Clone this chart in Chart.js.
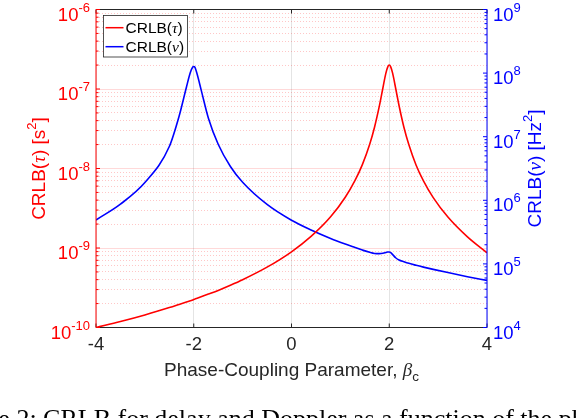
<!DOCTYPE html>
<html>
<head>
<meta charset="utf-8">
<script src="https://cdn.jsdelivr.net/npm/chart.js@4.4.0/dist/chart.umd.min.js"></script>
<style>
  html, body { margin: 0; padding: 0; background: #fff; overflow: hidden; }
  #wrap { position: relative; width: 576px; height: 418px; overflow: hidden; }
  #caption {
    position: absolute; left: -58px; top: 406px; white-space: nowrap;
    font-family: "Liberation Serif", "DejaVu Serif", serif; font-size: 26px; line-height: 1; color: #000;
  }
</style>
</head>
<body>
<div id="wrap">
  <canvas id="chart" width="576" height="418"></canvas>
  <div id="caption">Figure 2: CRLB for delay and Doppler as a function of the phase-coupling parameter</div>
</div>
<script>
// phase-coupling parameter samples (denser around the two peaks)
const betaValues = [-4, -3.5, -3, -2.5, -2.3, -2.15, -2.07, -2.02, -2, -1.98, -1.93, -1.85, -1.7, -1.5,
  -1.25, -1, -0.5, 0, 0.4, 0.8, 1.1, 1.3, 1.45, 1.6, 1.7, 1.8, 1.87, 1.93, 1.97, 2, 2.03, 2.07, 2.13,
  2.2, 2.3, 2.4, 2.55, 2.7, 2.9, 3.2, 3.6, 4];

// CRLB(tau) [s^2], left axis
const crlbTau = [1.0e-10, 1.19e-10, 1.44e-10, 1.78e-10, 1.95e-10, 2.09e-10, 2.17e-10, 2.22e-10, 2.25e-10,
  2.27e-10, 2.33e-10, 2.43e-10, 2.63e-10, 2.93e-10, 3.40e-10, 3.99e-10, 5.74e-10, 8.96e-10, 1.40e-9,
  2.47e-9, 4.35e-9, 7.09e-9, 1.12e-8, 2.02e-8, 3.33e-8, 6.21e-8, 1.03e-7, 1.57e-7, 1.90e-7, 2.0e-7,
  1.90e-7, 1.57e-7, 1.03e-7, 6.2e-8, 3.3e-8, 2.0e-8, 1.1e-8, 7.0e-9, 4.3e-9, 2.45e-9, 1.38e-9, 8.7e-10];

// CRLB(nu) [Hz^2], right axis
const crlbNu = [4.9e5, 8.7e5, 1.9e6, 7.0e6, 2.1e7, 6.0e7, 1.02e8, 1.25e8, 1.27e8,
  1.25e8, 9.6e7, 5.5e7, 1.95e7, 7.6e6, 3.4e6, 1.92e6, 8.6e5, 4.85e5, 3.41e5,
  2.51e5, 2.05e5, 1.81e5, 1.65e5, 1.52e5, 1.46e5, 1.45e5, 1.47e5, 1.51e5, 1.54e5, 1.54e5,
  1.5e5, 1.4e5, 1.25e5, 1.15e5, 1.08e5, 1.02e5, 9.5e4, 8.9e4, 8.2e4, 7.3e4, 6.3e4, 5.5e4];

const xTicks = [-4, -2, 0, 2, 4];
const tauDecades = [-10, -9, -8, -7, -6];
const nuDecades = [4, 5, 6, 7, 8, 9];
const minorSteps = [2, 3, 4, 5, 6, 7, 8, 9];

const SANS = '"Liberation Sans", Arial, sans-serif';
const SERIF = '"Liberation Serif", "DejaVu Serif", serif';
const RED = '#ff0000';
const BLUE = '#0000ff';
const DARK = '#262626';

function logTicks(decades) {
  const out = [];
  decades.forEach((e, i) => {
    out.push({ value: Math.pow(10, e), major: true });
    if (i < decades.length - 1) {
      minorSteps.forEach(m => out.push({ value: m * Math.pow(10, e), major: false }));
    }
  });
  return out;
}

function drawRich(ctx, parts, x, y, align) {
  let w = 0;
  parts.forEach(p => { ctx.font = p.font; w += ctx.measureText(p.t).width; });
  let cx = align === 'center' ? x - w / 2 : (align === 'right' ? x - w : x);
  ctx.textAlign = 'left';
  ctx.textBaseline = 'alphabetic';
  parts.forEach(p => {
    ctx.font = p.font;
    ctx.fillText(p.t, cx, y + (p.dy || 0));
    cx += ctx.measureText(p.t).width;
  });
}

function powLabel(ctx, exp, x, y, align) {
  drawRich(ctx, [
    { t: '10', font: '18.5px ' + SANS },
    { t: String(exp), font: '13px ' + SANS, dy: -9 }
  ], x, y + 11, align);
}

const decor = {
  id: 'decor',
  afterDatasetsDraw(chart) {
    const { ctx, chartArea: a, scales } = chart;
    const xs = scales.x, yl = scales.yTau, yr = scales.yNu;
    const line = (x1, y1, x2, y2) => { ctx.beginPath(); ctx.moveTo(x1, y1); ctx.lineTo(x2, y2); ctx.stroke(); };
    ctx.save();
    ctx.lineWidth = 1;

    // box + x ticks
    ctx.strokeStyle = DARK;
    line(a.left, a.top, a.right, a.top);
    line(a.left, a.bottom, a.right, a.bottom);
    xTicks.forEach(v => {
      const px = xs.getPixelForValue(v);
      line(px, a.bottom, px, a.bottom - 4);
      line(px, a.top, px, a.top + 4);
    });

    // left axis (red)
    ctx.strokeStyle = RED;
    line(a.left, a.top, a.left, a.bottom);
    yl.ticks.forEach(t => {
      const py = yl.getPixelForValue(t.value);
      line(a.left, py, a.left + (t.major ? 4 : 2.5), py);
    });

    // right axis (blue)
    ctx.strokeStyle = BLUE;
    line(a.right, a.top, a.right, a.bottom);
    yr.ticks.forEach(t => {
      const py = yr.getPixelForValue(t.value);
      line(a.right, py, a.right - (t.major ? 4 : 2.5), py);
    });

    // tick labels
    ctx.fillStyle = DARK;
    ctx.font = '18.5px ' + SANS;
    ctx.textAlign = 'center';
    ctx.textBaseline = 'alphabetic';
    xTicks.forEach(v => ctx.fillText(String(v), xs.getPixelForValue(v), a.bottom + 22));

    ctx.fillStyle = RED;
    tauDecades.forEach(e => powLabel(ctx, e, a.left - 6, yl.getPixelForValue(Math.pow(10, e)), 'right'));
    ctx.fillStyle = BLUE;
    nuDecades.forEach(e => powLabel(ctx, e, a.right + 6, yr.getPixelForValue(Math.pow(10, e)), 'left'));

    // x title
    ctx.fillStyle = DARK;
    drawRich(ctx, [
      { t: 'Phase-Coupling Parameter, ', font: '19px ' + SANS },
      { t: 'β', font: 'italic 19px ' + SERIF },
      { t: 'c', font: '13.5px ' + SANS, dy: 5 }
    ], (a.left + a.right) / 2, a.bottom + 48, 'center');

    // y titles
    const midY = (a.top + a.bottom) / 2;
    ctx.save();
    ctx.translate(45, midY);
    ctx.rotate(-Math.PI / 2);
    ctx.fillStyle = RED;
    drawRich(ctx, [
      { t: 'CRLB(', font: '19px ' + SANS },
      { t: 'τ', font: 'italic 19px ' + SERIF },
      { t: ') [s', font: '19px ' + SANS },
      { t: '2', font: '13px ' + SANS, dy: -9 },
      { t: ']', font: '19px ' + SANS }
    ], 0, 0, 'center');
    ctx.restore();

    ctx.save();
    ctx.translate(541, midY);
    ctx.rotate(-Math.PI / 2);
    ctx.fillStyle = BLUE;
    drawRich(ctx, [
      { t: 'CRLB(', font: '19px ' + SANS },
      { t: 'ν', font: 'italic 19px ' + SERIF },
      { t: ') [Hz', font: '19px ' + SANS },
      { t: '2', font: '13px ' + SANS, dy: -9 },
      { t: ']', font: '19px ' + SANS }
    ], 0, 0, 'center');
    ctx.restore();

    // legend box
    const lx = a.left + 7.5, ly = a.top + 6, lw = 84, lh = 41.5;
    ctx.fillStyle = '#fff';
    ctx.fillRect(lx, ly, lw, lh);
    ctx.strokeStyle = DARK;
    ctx.lineWidth = 0.8;
    ctx.strokeRect(lx, ly, lw, lh);
    const rows = [
      { color: RED, sym: 'τ', y: ly + 12.2 },
      { color: BLUE, sym: 'ν', y: ly + 31.2 }
    ];
    rows.forEach(r => {
      ctx.strokeStyle = r.color;
      ctx.lineWidth = 1.5;
      line(lx + 2, r.y, lx + 20, r.y);
      ctx.fillStyle = '#000';
      drawRich(ctx, [
        { t: 'CRLB(', font: '15.5px ' + SANS },
        { t: r.sym, font: 'italic 15.5px ' + SERIF },
        { t: ')', font: '15.5px ' + SANS }
      ], lx + 22, r.y + 5.5, 'left');
    });

    ctx.restore();
  }
};

new Chart(document.getElementById('chart'), {
  type: 'line',
  data: {
    datasets: [
      {
        label: 'CRLB(τ)',
        data: betaValues.map((b, i) => ({ x: b, y: crlbTau[i] })),
        yAxisID: 'yTau',
        borderColor: RED,
        borderWidth: 1.6,
        pointRadius: 0,
        cubicInterpolationMode: 'monotone',
        fill: false
      },
      {
        label: 'CRLB(ν)',
        data: betaValues.map((b, i) => ({ x: b, y: crlbNu[i] })),
        yAxisID: 'yNu',
        borderColor: BLUE,
        borderWidth: 1.6,
        pointRadius: 0,
        cubicInterpolationMode: 'monotone',
        fill: false
      }
    ]
  },
  options: {
    responsive: false,
    animation: false,
    devicePixelRatio: 1,
    layout: { padding: { top: 9.5, left: 0, right: 0, bottom: 0 } },
    plugins: { legend: { display: false }, tooltip: { enabled: false } },
    scales: {
      x: {
        type: 'linear',
        min: -4,
        max: 4,
        afterBuildTicks: s => { s.ticks = xTicks.map(v => ({ value: v })); },
        afterFit: s => { s.height = 90.5; },
        ticks: { display: false },
        grid: { color: '#e4e4e4', drawTicks: false },
        border: { display: false }
      },
      yTau: {
        type: 'logarithmic',
        position: 'left',
        min: 1e-10,
        max: 1e-6,
        afterBuildTicks: s => { s.ticks = logTicks(tauDecades); },
        afterFit: s => { s.width = 96; },
        ticks: { display: false },
        grid: {
          drawTicks: false,
          color: c => (c.tick && c.tick.major ? 'rgba(255,0,0,0.15)' : 'rgba(255,0,0,0.22)')
        },
        border: { display: false, dash: c => (c.tick && c.tick.major ? [] : [1, 2]) }
      },
      yNu: {
        type: 'logarithmic',
        position: 'right',
        min: 1e4,
        max: 1e9,
        afterBuildTicks: s => { s.ticks = logTicks(nuDecades); },
        afterFit: s => { s.width = 89; },
        ticks: { display: false },
        grid: { drawOnChartArea: false, drawTicks: false },
        border: { display: false }
      }
    }
  },
  plugins: [decor]
});
</script>
</body>
</html>
